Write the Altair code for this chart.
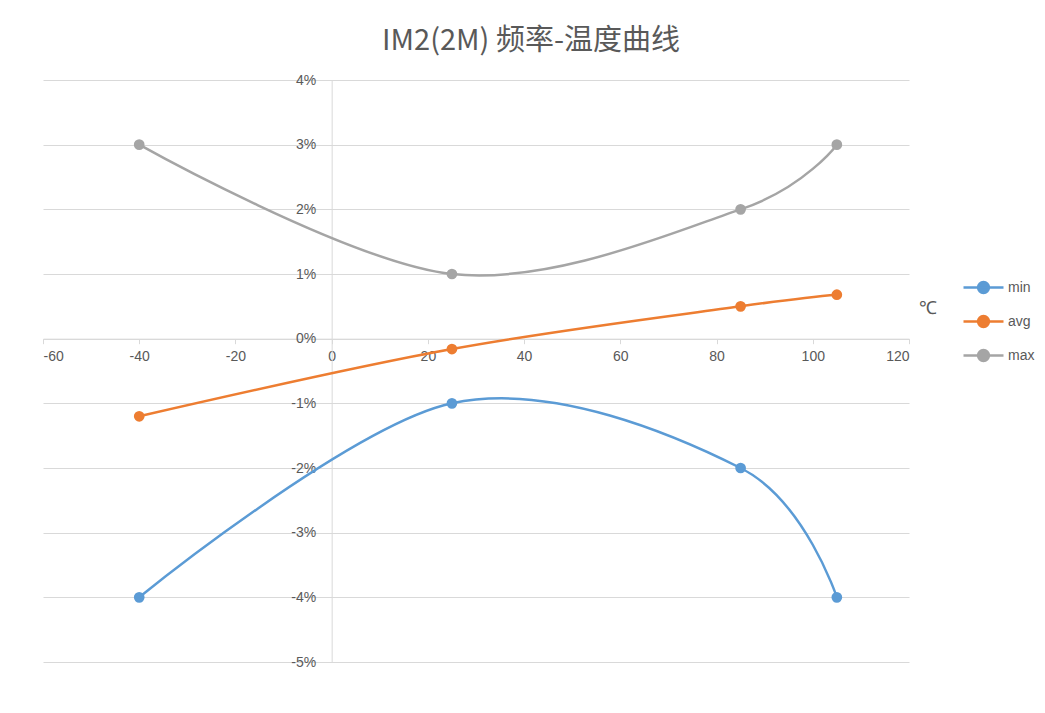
import altair as alt
import pandas as pd

temps = [-40, 25, 85, 105]
min_vals = [-0.04, -0.01, -0.02, -0.04]
avg_vals = [-0.012, -0.0016, 0.005, 0.0068]
max_vals = [0.03, 0.01, 0.02, 0.03]
series_names = ["min", "avg", "max"]
colors = ["#5B9BD5", "#ED7D31", "#A5A5A5"]
x_ticks = [-60, -40, -20, 0, 20, 40, 60, 80, 100, 120]
y_ticks = [-0.05, -0.04, -0.03, -0.02, -0.01, 0.0, 0.01, 0.02, 0.03, 0.04]

rows = []
for name, vals in zip(series_names, [min_vals, avg_vals, max_vals]):
    for t, v in zip(temps, vals):
        rows.append({"temp": t, "value": v, "series": name})
df = pd.DataFrame(rows)

W, H = 866, 582
x0_px = 60 / 180 * W
y0_px = 4 / 9 * H

label_font = "Liberation Sans"
gray_text = "#595959"

x_enc = alt.X(
    "temp:Q",
    scale=alt.Scale(domain=[-60, 120], nice=False, zero=False),
    axis=alt.Axis(
        values=x_ticks,
        labelExpr="'' + datum.value",
        offset=-(H - y0_px),
        grid=False,
        domainColor="#D9D9D9",
        tickColor="#D9D9D9",
        tickSize=5,
        labelFont=label_font,
        labelFontSize=14,
        labelColor=gray_text,
        labelPadding=6,
        title="℃",
        titleX=884,
        titleY=-30,
        titleAngle=0,
        titleAlign="center",
        titleBaseline="middle",
        titleFont=label_font,
        titleFontSize=18,
        titleFontWeight="normal",
        titleColor=gray_text,
    ),
)
y_enc = alt.Y(
    "value:Q",
    scale=alt.Scale(domain=[-0.05, 0.04], nice=False, zero=False),
    axis=alt.Axis(
        values=y_ticks,
        labelExpr="round(datum.value * 100) + '%'",
        offset=-x0_px,
        grid=True,
        gridColor="#D9D9D9",
        domainColor="#D9D9D9",
        ticks=False,
        labelFont=label_font,
        labelFontSize=14,
        labelColor=gray_text,
        labelPadding=16,
        title=None,
    ),
)
color_enc = alt.Color(
    "series:N",
    scale=alt.Scale(domain=series_names, range=colors),
    sort=series_names,
    legend=alt.Legend(
        title=None,
        orient="none",
        legendX=919,
        legendY=186,
        symbolType="M-1,0L1,0M-0.27,0A0.27,0.27,0,1,1,0.27,0A0.27,0.27,0,1,1,-0.27,0Z",
        symbolSize=1600,
        symbolStrokeWidth=2.5,
        labelFont=label_font,
        labelFontSize=14,
        labelColor=gray_text,
        rowPadding=2,
        labelOffset=3,
    ),
)

base = alt.Chart(df).encode(x=x_enc, y=y_enc, color=color_enc)
lines = base.mark_line(interpolate="cardinal", strokeWidth=2.5)
points = base.mark_point(filled=True, size=115, opacity=1)

chart = (
    alt.layer(lines, points)
    .properties(
        width=W,
        height=H,
        autosize=alt.AutoSizeParams(type="none"),
        padding={"left": 35, "top": 72, "right": 128, "bottom": 30},
        title=alt.TitleParams(
            "IM2(2M) 频率-温度曲线",
            font="Noto Sans CJK SC",
            fontSize=29,
            fontWeight="normal",
            color=gray_text,
            anchor="middle",
            dx=55,
            offset=17,
        ),
    )
    .configure_view(stroke=None)
)

chart.save("out.html", embed_options={"renderer": "svg", "actions": False})
